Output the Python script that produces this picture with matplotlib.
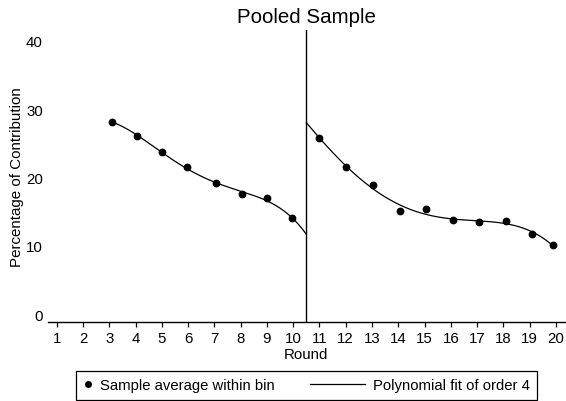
import numpy as np
import matplotlib
matplotlib.use("Agg")
import matplotlib.pyplot as plt
from matplotlib.lines import Line2D
from matplotlib.legend_handler import HandlerLine2D

plt.rcParams['font.family'] = ['Liberation Sans', 'DejaVu Sans']

# bin averages, before and after the break at round 10.5
x_pre = [3.1, 4.05, 5.0, 5.96, 7.07, 8.04, 9.0, 9.95]
y_pre = [28.15, 26.0, 23.67, 21.5, 19.18, 17.5, 16.98, 14.0]
x_post = [11.0, 12.02, 13.03, 14.05, 15.05, 16.07, 17.08, 18.1, 19.1, 19.9]
y_post = [25.77, 21.48, 18.94, 15.03, 15.3, 13.76, 13.42, 13.57, 11.76, 10.05]
rounds = list(range(1, 21))
break_at = 10.5


class LeftDot(HandlerLine2D):
    def get_xdata(self, legend, xdescent, ydescent, width, height, fontsize):
        xd, xm = super().get_xdata(legend, xdescent, ydescent, width, height, fontsize)
        return xd, [-xdescent + 0.5 * width]


class LongLine(HandlerLine2D):
    def get_xdata(self, legend, xdescent, ydescent, width, height, fontsize):
        xd, xm = super().get_xdata(legend, xdescent, ydescent, width, height, fontsize)
        return [-xdescent + width - 40, -xdescent + width], xm


fig = plt.figure(figsize=(5.66, 4.02), dpi=100)
ax = fig.add_axes([47.7 / 566, 1 - 323.3 / 402, (565 - 47.7) / 566, (323.3 - 30.7) / 402])

ax.plot(x_pre, y_pre, 'o', color='black', ms=4.6)
ax.plot(x_post, y_post, 'o', color='black', ms=4.6)

c1 = np.polyfit(x_pre, y_pre, 4)
xs1 = np.linspace(x_pre[0], break_at, 200)
ax.plot(xs1, np.polyval(c1, xs1), color='black', lw=0.9)
c2 = np.polyfit(x_post, y_post, 4)
xs2 = np.linspace(break_at, x_post[-1], 200)
ax.plot(xs2, np.polyval(c2, xs2), color='black', lw=0.9)

ax.axvline(break_at, color='black', lw=1.0)

ax.set_xlim(0.65, 20.35)
ax.set_ylim(-1.2, 41.6)
ax.set_xticks(rounds)
ax.set_yticks([0, 10, 20, 30, 40])
for s in ['top', 'right', 'left']:
    ax.spines[s].set_visible(False)
ax.spines['bottom'].set_linewidth(1.0)
ax.tick_params(axis='x', length=3.5, width=0.9, pad=2.5, labelsize=10.8)
ax.tick_params(axis='y', length=0, pad=3.5, labelsize=10.8)

ax.set_title("Pooled Sample", fontsize=14.8, pad=5.5)
ax.set_xlabel("Round", fontsize=10.8, labelpad=1.5)
ax.set_ylabel("Percentage of Contribution", fontsize=10.9)
ax.yaxis.set_label_coords(-0.046, 0.5)

dot = Line2D([], [], marker='o', color='black', ls='none', ms=4)
line = Line2D([], [], color='black', lw=0.9)
leg = fig.legend([dot, line], ["Sample average within bin", "Polynomial fit of order 4"],
                 ncol=2, loc='upper left', mode='expand',
                 bbox_to_anchor=(76 / 566, 1 - 372 / 402 - 0.01, (537 - 76) / 566, 0.01),
                 bbox_transform=fig.transFigure,
                 fontsize=10.7, handlelength=0.6, handletextpad=0.5,
                 fancybox=False, edgecolor='black', framealpha=1,
                 borderpad=0.5, borderaxespad=0,
                 handler_map={dot: LeftDot(numpoints=1), line: LongLine()})
leg.get_frame().set_linewidth(0.9)

fig.savefig("out.png", dpi=100)
